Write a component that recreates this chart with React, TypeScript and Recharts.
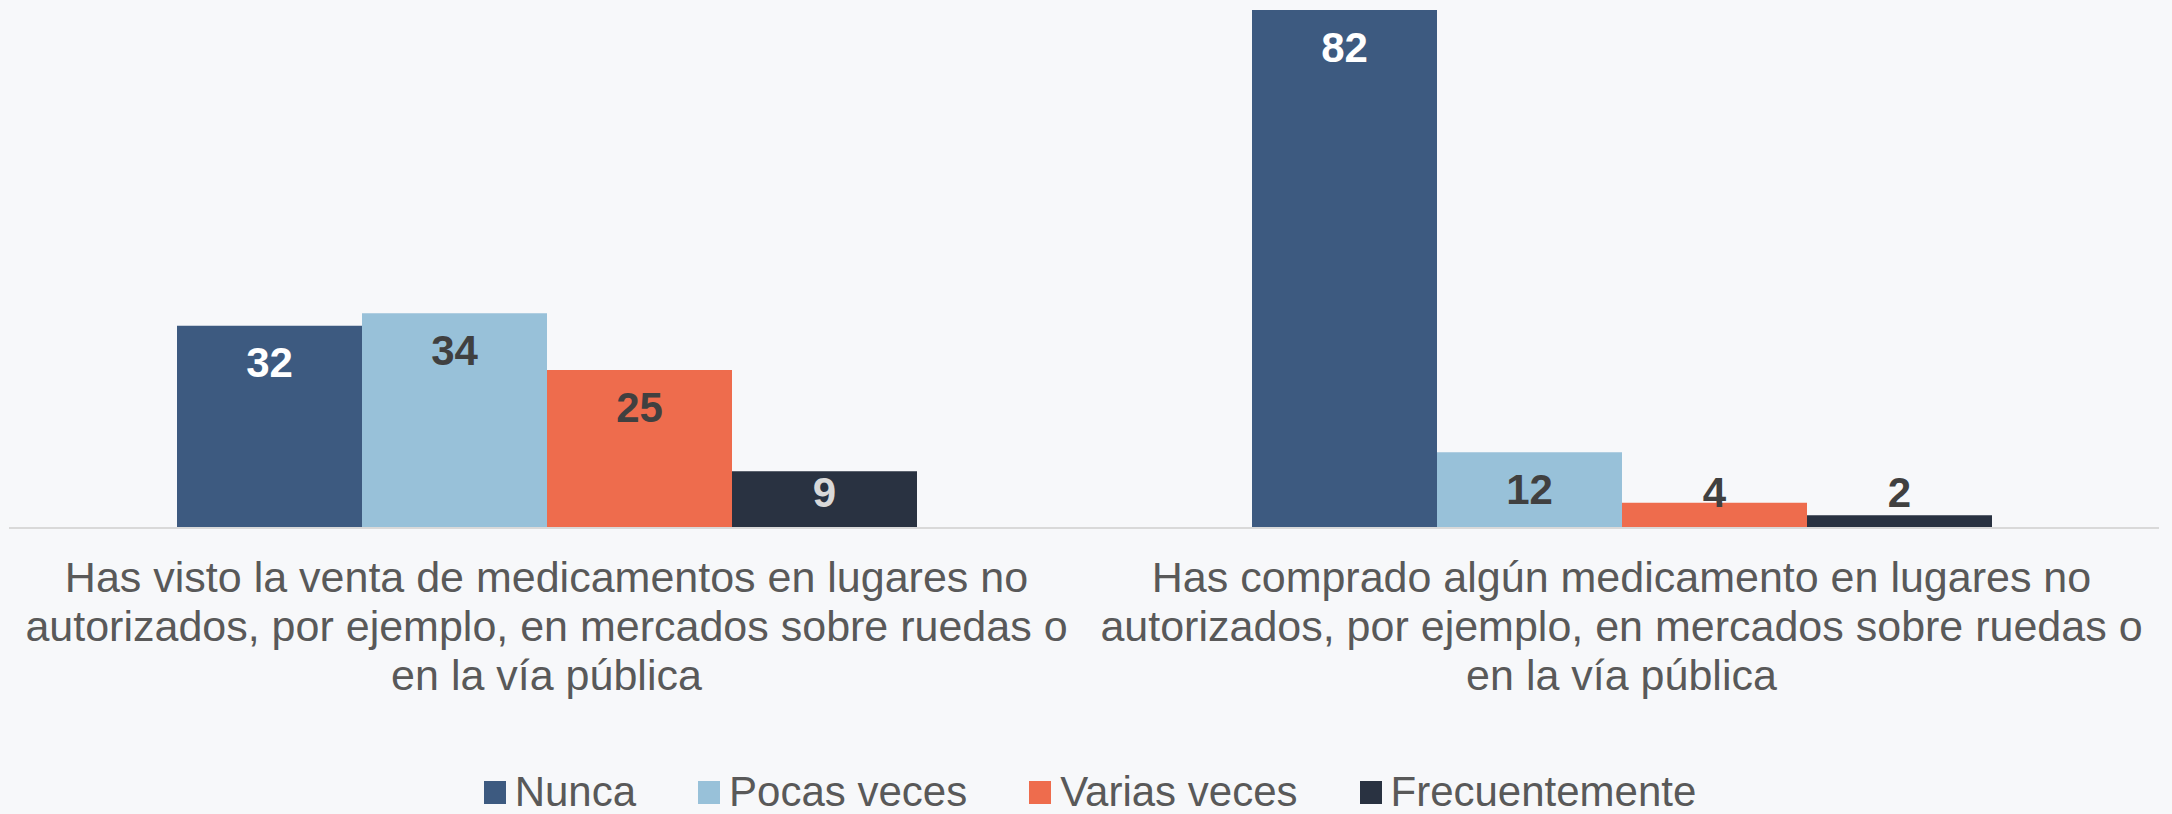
import React from 'react';
import { BarChart, Bar, XAxis, YAxis, Legend, LabelList } from 'recharts';

const categories: string[] = [
  'Has visto la venta de medicamentos en lugares no\nautorizados, por ejemplo, en mercados sobre ruedas o\nen la vía pública',
  'Has comprado algún medicamento en lugares no\nautorizados, por ejemplo, en mercados sobre ruedas o\nen la vía pública',
];

const seriesNames: string[] = ['Nunca', 'Pocas veces', 'Varias veces', 'Frecuentemente'];
const nunca: number[] = [32, 82];
const pocasVeces: number[] = [34, 12];
const variasVeces: number[] = [25, 4];
const frecuentemente: number[] = [9, 2];

const colors = ['#3d5a80', '#98c1d9', '#ee6c4d', '#293241'];
const labelColors = ['#ffffff', '#404040', '#404040', '#d9d9d9'];
const FONT = '"Liberation Sans", Arial, sans-serif';

const data = categories.map((name, i) => ({
  name,
  s0: nunca[i],
  s1: pocasVeces[i],
  s2: variasVeces[i],
  s3: frecuentemente[i],
}));

const CategoryTick = (props: any) => {
  const { x, y, payload } = props;
  const lines: string[] = String(payload.value).split('\n');
  return (
    <g>
      {lines.map((line, i) => (
        <text
          key={i}
          x={x}
          y={y + 64 + i * 49}
          textAnchor="middle"
          fill="#595959"
          fontSize={43}
          fontFamily={FONT}
        >
          {line}
        </text>
      ))}
    </g>
  );
};

const makeLabel = (idx: number) => (props: any) => {
  const { x, y, width, height, value } = props;
  const bottom = y + height;
  const cy = Math.min(y + 37, bottom - 36);
  const fill = height < 40 ? '#404040' : labelColors[idx];
  return (
    <text
      x={x + width / 2}
      y={cy}
      textAnchor="middle"
      dominantBaseline="central"
      fill={fill}
      fontSize={42}
      fontWeight="bold"
      fontFamily={FONT}
    >
      {value}
    </text>
  );
};

const LegendContent = () => (
  <div
    style={{
      height: 60,
      display: 'flex',
      justifyContent: 'center',
      alignItems: 'flex-end',
      paddingLeft: 8,
      boxSizing: 'border-box',
      fontFamily: FONT,
      fontSize: 42,
      color: '#595959',
    }}
  >
    {seriesNames.map((n, i) => (
      <div
        key={n}
        style={{
          display: 'flex',
          alignItems: 'center',
          marginRight: i < seriesNames.length - 1 ? 62 : 0,
          lineHeight: '42px',
          height: 44,
        }}
      >
        <span style={{ width: 22, height: 23, background: colors[i], marginRight: 9, display: 'inline-block' }} />
        <span>{n}</span>
      </div>
    ))}
  </div>
);

export default function App() {
  return (
    <div style={{ position: 'absolute', left: 0, top: 0, width: 2172, height: 814, background: '#f7f8fa' }}>
      <BarChart
        width={2172}
        height={814}
        data={data}
        margin={{ top: 10, right: 13, left: 9, bottom: 0 }}
        barCategoryGap={168}
        barGap={0}
      >
        <XAxis
          dataKey="name"
          interval={0}
          height={226}
          tickLine={false}
          tickSize={0}
          tickMargin={0}
          axisLine={{ stroke: '#d9d9d9', strokeWidth: 2 }}
          tick={<CategoryTick />}
        />
        <YAxis hide domain={[0, 82]} />
        <Legend
          verticalAlign="bottom"
          content={<LegendContent />}
          wrapperStyle={{ left: 0, width: 2172, bottom: 0 }}
        />
        {['s0', 's1', 's2', 's3'].map((k, i) => (
          <Bar key={k} dataKey={k} name={seriesNames[i]} fill={colors[i]} isAnimationActive={false}>
            <LabelList dataKey={k} content={makeLabel(i)} />
          </Bar>
        ))}
      </BarChart>
    </div>
  );
}
